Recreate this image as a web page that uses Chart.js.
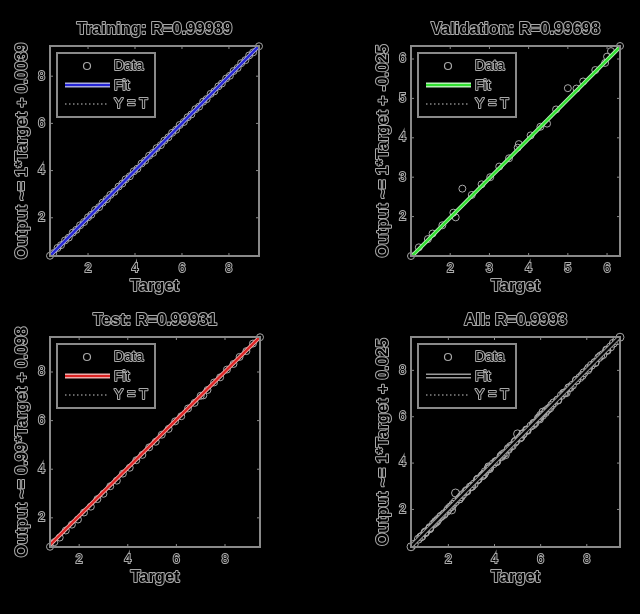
<!DOCTYPE html>
<html>
<head>
<meta charset="utf-8">
<script src="https://cdn.jsdelivr.net/npm/chart.js@4.4.1/dist/chart.umd.min.js"></script>
<style>
  html, body { margin: 0; padding: 0; background: #000; }
  #fig { position: relative; width: 640px; height: 614px; background: #000; overflow: hidden; }
  #fig canvas { position: absolute; }
</style>
</head>
<body>
<div id="fig">
  <canvas id="c0" width="320" height="307" style="left:0;top:0"></canvas>
  <canvas id="c1" width="320" height="307" style="left:320px;top:0"></canvas>
  <canvas id="c2" width="320" height="307" style="left:0;top:307px"></canvas>
  <canvas id="c3" width="320" height="307" style="left:320px;top:307px"></canvas>
</div>
<script>
const FONT = "'Liberation Sans', Arial, sans-serif";
const EDGE = "#a9a9a9";
const BOX = "#8a8a8a";

// training set
const trainTarget = [0.38, 0.52, 0.7, 0.85, 1.02, 1.18, 1.35, 1.5, 1.66, 1.83, 2.0, 2.14, 2.3, 2.47, 2.62,
  2.8, 2.95, 3.12, 3.3, 3.46, 3.6, 3.78, 3.95, 4.1, 4.28, 4.43, 4.6, 4.77, 4.92, 5.1, 5.25, 5.42, 5.58,
  5.75, 5.9, 6.08, 6.24, 6.4, 6.57, 6.73, 6.9, 7.05, 7.22, 7.38, 7.55, 7.7, 7.88, 8.04, 8.2, 8.37, 8.52,
  8.7, 8.86, 9.03, 9.28];
const trainOutput = [0.39, 0.5, 0.72, 0.84, 1.04, 1.16, 1.37, 1.49, 1.68, 1.82, 2.02, 2.13, 2.33, 2.45, 2.64,
  2.79, 2.97, 3.1, 3.32, 3.45, 3.63, 3.76, 3.97, 4.08, 4.3, 4.42, 4.63, 4.75, 4.95, 5.08, 5.27, 5.41, 5.6,
  5.73, 5.93, 6.06, 6.26, 6.38, 6.6, 6.71, 6.92, 7.03, 7.25, 7.36, 7.57, 7.69, 7.9, 8.02, 8.22, 8.35, 8.55,
  8.68, 8.88, 9.01, 9.27];

// validation set
const valTarget = [1.0, 1.2, 1.43, 1.55, 1.8, 2.08, 2.14, 2.31, 2.55, 2.8, 3.02, 3.25, 3.5, 3.72, 3.75,
  4.05, 4.3, 4.47, 4.7, 5.0, 5.22, 5.39, 5.7, 5.95, 6.0, 6.1, 6.33];
const valOutput = [1.0, 1.22, 1.43, 1.57, 1.78, 2.1, 1.98, 2.71, 2.55, 2.82, 3.0, 3.27, 3.48, 3.75, 3.84,
  4.06, 4.28, 4.36, 4.72, 5.26, 5.25, 5.43, 5.72, 5.9, 6.06, 6.2, 6.33];

// test set
const testTarget = [0.8, 0.98, 1.2, 1.45, 1.7, 1.95, 2.2, 2.48, 2.75, 3.0, 3.28, 3.55, 3.8, 4.08, 4.35,
  4.6, 4.88, 5.15, 5.4, 5.68, 5.95, 6.2, 6.48, 6.75, 7.0, 7.11, 7.28, 7.55, 7.8, 8.08, 8.35, 8.6, 8.88,
  9.15, 9.44];
const testOutput = [0.81, 1.0, 1.19, 1.48, 1.72, 1.93, 2.22, 2.46, 2.77, 2.99, 3.3, 3.53, 3.82, 4.06, 4.37,
  4.59, 4.9, 5.13, 5.42, 5.66, 5.97, 6.18, 6.5, 6.73, 7.02, 7.04, 7.26, 7.57, 7.78, 8.1, 8.33, 8.62, 8.86,
  9.17, 9.43];

// all = the three sets together
const allTarget = trainTarget.concat(valTarget, testTarget);
const allOutput = trainOutput.concat(valOutput, testOutput);

const titles = ["Training: R=0.99989", "Validation: R=0.99698", "Test: R=0.99931", "All: R=0.9993"];
const yLabels = [
  "Output ~= 1*Target + 0.0039",
  "Output ~= 1*Target + -0.025",
  "Output ~= 0.99*Target + 0.098",
  "Output ~= 1*Target + 0.025",
];
const fitSlope = [1, 1, 0.99, 1];
const fitOffset = [0.0039, -0.025, 0.098, 0.025];
const legendLabels = ["Data", "Fit", "Y = T"];

const trainTicks = [2, 4, 6, 8];
const valTicks = [2, 3, 4, 5, 6];
const testTicks = [2, 4, 6, 8];
const allTicks = [2, 4, 6, 8];

function edgeText(ctx, text, x, y, font, align) {
  ctx.save();
  ctx.font = font + " " + FONT;
  ctx.textAlign = align || "center";
  ctx.textBaseline = "middle";
  ctx.lineJoin = "round";
  ctx.lineWidth = 2;
  ctx.strokeStyle = EDGE;
  ctx.strokeText(text, x, y);
  ctx.fillStyle = "#000";
  ctx.fillText(text, x, y);
  ctx.restore();
}

function line(ctx, x1, y1, x2, y2, color, width, dash) {
  ctx.save();
  ctx.strokeStyle = color;
  ctx.lineWidth = width;
  ctx.setLineDash(dash || []);
  ctx.beginPath();
  ctx.moveTo(x1, y1);
  ctx.lineTo(x2, y2);
  ctx.stroke();
  ctx.restore();
}

// frame, inward ticks, title, axis labels and legend in the old MATLAB look
const matlabFrame = {
  id: "matlabFrame",
  afterDraw(chart, args, o) {
    const ctx = chart.ctx;
    const a = chart.chartArea;
    const xs = chart.scales.x, ys = chart.scales.y;

    ctx.save();
    ctx.strokeStyle = BOX;
    ctx.lineWidth = 2;
    ctx.strokeRect(a.left, a.top, a.right - a.left, a.bottom - a.top);
    ctx.restore();

    xs.ticks.forEach((t) => {
      const px = xs.getPixelForValue(t.value);
      line(ctx, px, a.bottom, px, a.bottom - 3, BOX, 1);
      line(ctx, px, a.top, px, a.top + 3, BOX, 1);
    });
    ys.ticks.forEach((t) => {
      const py = ys.getPixelForValue(t.value);
      line(ctx, a.left, py, a.left + 3, py, BOX, 1);
      line(ctx, a.right, py, a.right - 3, py, BOX, 1);
    });

    const cx = (a.left + a.right) / 2, cy = (a.top + a.bottom) / 2;
    edgeText(ctx, o.title, cx, a.top - 17, "bold 16.5px");
    edgeText(ctx, "Target", cx, a.bottom + 30.5, "bold 16.5px");
    ctx.save();
    ctx.translate(a.left - 28, cy);
    ctx.rotate(-Math.PI / 2);
    edgeText(ctx, o.yLabel, 0, 0, "bold 16.5px");
    ctx.restore();

    // legend
    const bx = a.left + 7, by = a.top + 7;
    ctx.save();
    ctx.fillStyle = "#000";
    ctx.fillRect(bx, by, 98, 64);
    ctx.strokeStyle = BOX;
    ctx.lineWidth = 2;
    ctx.strokeRect(bx, by, 98, 64);
    ctx.restore();

    const ds = chart.data.datasets;
    ctx.save();
    ctx.strokeStyle = ds[0].borderColor;
    ctx.lineWidth = 1.2;
    ctx.beginPath();
    ctx.arc(bx + 30, by + 13, 3.5, 0, Math.PI * 2);
    ctx.stroke();
    ctx.restore();
    edgeText(ctx, legendLabels[0], bx + 57, by + 13, "14px", "left");

    line(ctx, bx + 8, by + 32, bx + 53, by + 32, ds[1].borderColor, 5);
    line(ctx, bx + 8, by + 32, bx + 53, by + 32, ds[2].borderColor, ds[2].borderWidth);
    edgeText(ctx, legendLabels[1], bx + 57, by + 33, "14px", "left");

    line(ctx, bx + 8, by + 51, bx + 50, by + 51, "#c8c8c8", 1, [1.5, 2.5]);
    edgeText(ctx, legendLabels[2], bx + 57, by + 51, "14px", "left");
  },
};

function makePanel(id, i, target, output, ticks, fitColor, haloColor, radius, pad) {
  const lo = Math.min(...target, ...output);
  const hi = Math.max(...target, ...output);
  const m = fitSlope[i], b = fitOffset[i];
  const pts = target.map((t, k) => ({ x: t, y: output[k] }));
  const fit = [{ x: lo, y: m * lo + b }, { x: hi, y: m * hi + b }];
  const axis = (fitFn) => ({
    type: "linear",
    min: lo,
    max: hi,
    afterBuildTicks: (s) => { s.ticks = ticks.map((v) => ({ value: v })); },
    afterFit: fitFn,
    grid: { display: false, drawTicks: false },
    border: { display: false },
    ticks: {
      color: "#000",
      textStrokeColor: EDGE,
      textStrokeWidth: 2,
      padding: 5,
      font: { family: FONT, size: 12 },
    },
  });

  return new Chart(document.getElementById(id), {
    type: "scatter",
    data: {
      datasets: [
        {
          data: pts,
          showLine: false,
          pointStyle: "circle",
          pointRadius: radius,
          pointBorderWidth: 1,
          borderColor: "#a8a8a8",
          backgroundColor: "rgba(0,0,0,0)",
          pointBackgroundColor: "rgba(0,0,0,0)",
          pointBorderColor: "#a8a8a8",
          clip: false,
          order: 4,
        },
        {
          data: fit, showLine: true, pointRadius: 0,
          borderColor: haloColor, borderWidth: 4, order: 3,
        },
        {
          data: fit, showLine: true, pointRadius: 0,
          borderColor: fitColor, borderWidth: 2.2, order: 2,
        },
        {
          data: [{ x: lo, y: lo }, { x: hi, y: hi }], showLine: true, pointRadius: 0,
          borderColor: "#444", borderWidth: 1, borderDash: [1, 2], order: 5,
        },
      ],
    },
    options: {
      responsive: false,
      animation: false,
      layout: { padding: pad },
      plugins: {
        legend: { display: false },
        tooltip: { enabled: false },
        matlabFrame: { title: titles[i], yLabel: yLabels[i] },
      },
      scales: {
        x: axis((s) => { s.height = 24; }),
        y: axis((s) => { s.width = 30; }),
      },
    },
    plugins: [matlabFrame],
  });
}

makePanel("c0", 0, trainTarget, trainOutput, trainTicks, "#2424d6", "#a6a8de", 3.5, { left: 20, top: 46, right: 61, bottom: 27 });
makePanel("c1", 1, valTarget, valOutput, valTicks, "#2fe02f", "#b4f0b4", 3.5, { left: 61, top: 46, right: 20, bottom: 27 });
makePanel("c2", 2, testTarget, testOutput, testTicks, "#dd2222", "#eeaaaa", 3.5, { left: 20, top: 30, right: 60, bottom: 43 });
makePanel("c3", 3, allTarget, allOutput, allTicks, "#000000", "#9a9a9a", 4, { left: 61, top: 30, right: 20, bottom: 43 });
</script>
</body>
</html>
